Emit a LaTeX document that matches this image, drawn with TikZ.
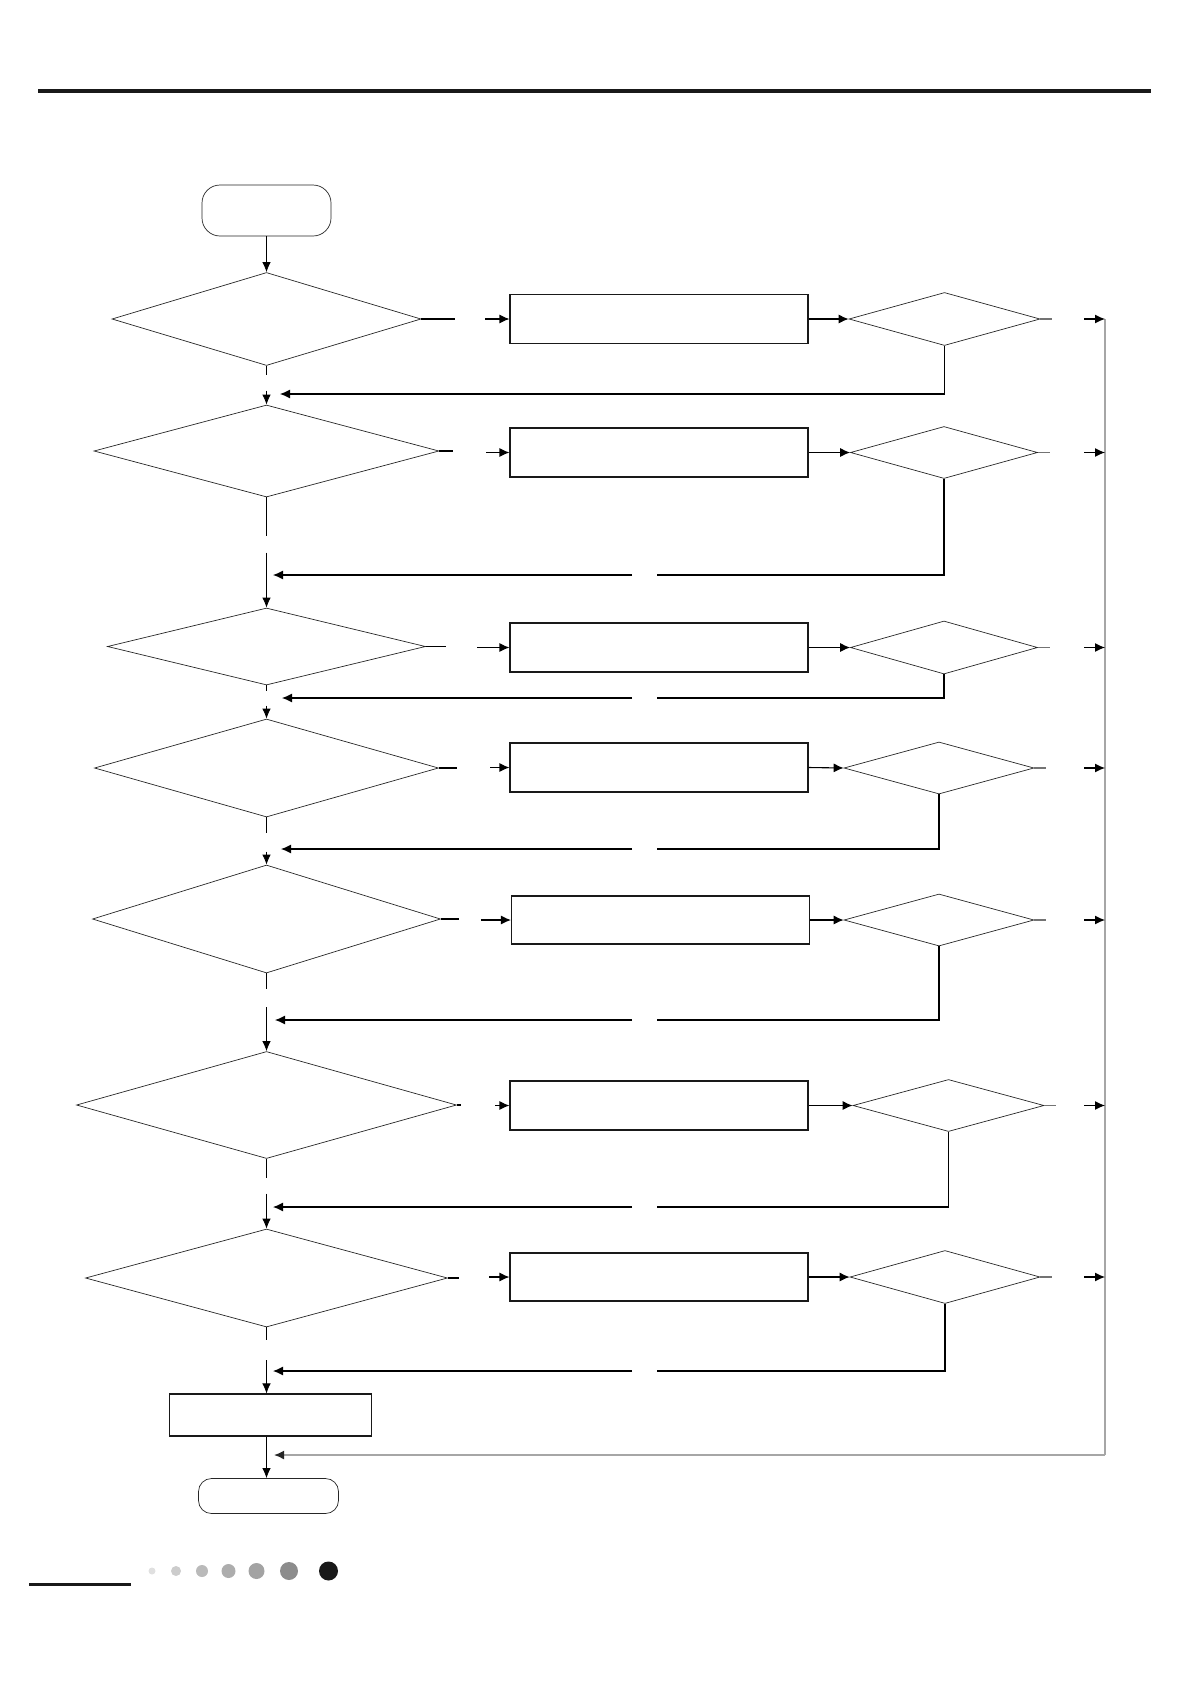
\documentclass[tikz,border=0pt]{standalone}
\usetikzlibrary{shapes.geometric,arrows.meta,calc}
\begin{document}
\begin{tikzpicture}[x=1pt,y=-1pt,
  dia/.style={draw=black!85, line width=0.7pt, diamond, inner sep=0pt},
  bx/.style={draw=black!90, line width=1.1pt, rectangle, inner sep=0pt},
  term/.style={draw=black!85, line width=0.7pt, rectangle, inner sep=0pt},
  arr/.style={line width=1.1pt, -{Latex[length=10pt,width=9pt]}},
  varr/.style={line width=0.8pt, -{Latex[length=10pt,width=8.5pt]}},
  ln/.style={line width=1.1pt},
  vln/.style={line width=0.8pt},
  grayln/.style={draw=black!35, line width=1.6pt},
  dot/.style={circle, inner sep=0pt, draw=none}
]
\useasboundingbox (0,0) rectangle (1190,1684);
% top rule
\fill[black!90] (38,89) rectangle (1151,93);

% terminals
\node[term, rounded corners=18pt, minimum width=129pt, minimum height=51pt] (start) at (266.5,210.5) {};
\node[term, rounded corners=13pt, minimum width=140pt, minimum height=35pt] (stop) at (268.5,1496) {};

% main decisions
\node[dia, minimum width=309pt, minimum height=93pt] (d1) at (266.5,319) {};
\node[dia, minimum width=345pt, minimum height=92pt] (d2) at (266.5,451) {};
\node[dia, minimum width=318pt, minimum height=77pt] (d3) at (266.5,646.5) {};
\node[dia, minimum width=344pt, minimum height=98pt] (d4) at (266.5,768) {};
\node[dia, minimum width=348pt, minimum height=108pt] (d5) at (266.5,919) {};
\node[dia, minimum width=380pt, minimum height=107pt] (d6) at (266.5,1105) {};
\node[dia, minimum width=362pt, minimum height=98pt] (d7) at (266.5,1278) {};

% action boxes
\node[bx, minimum width=298pt, minimum height=49pt] (r1) at (659,319) {};
\node[bx, minimum width=298pt, minimum height=49pt] (r2) at (659,452.5) {};
\node[bx, minimum width=298pt, minimum height=49pt] (r3) at (659,647.5) {};
\node[bx, minimum width=298pt, minimum height=49pt] (r4) at (659,767.5) {};
\node[bx, minimum width=298pt, minimum height=48pt] (r5) at (660.5,920) {};
\node[bx, minimum width=298pt, minimum height=49pt] (r6) at (659,1105.5) {};
\node[bx, minimum width=298pt, minimum height=48pt] (r7) at (659,1277) {};

% small decisions
\node[dia, minimum width=191pt, minimum height=53pt] (s1) at (944.5,319) {};
\node[dia, minimum width=187pt, minimum height=52pt] (s2) at (944,452.5) {};
\node[dia, minimum width=187pt, minimum height=53pt] (s3) at (944,647.5) {};
\node[dia, minimum width=190pt, minimum height=52pt] (s4) at (939,768) {};
\node[dia, minimum width=190pt, minimum height=52pt] (s5) at (939,920) {};
\node[dia, minimum width=191pt, minimum height=52pt] (s6) at (948.5,1105.5) {};
\node[dia, minimum width=190pt, minimum height=53pt] (s7) at (945,1277) {};

% final box
\node[bx, minimum width=202pt, minimum height=42pt] (fin) at (270.5,1415) {};

% right collector line
\coordinate (gtop) at (1105,319);
\coordinate (gbot) at (1105,1455);
\coordinate (gend) at (274,1455);
\draw[grayln] (gtop) -- (gbot);
\draw[grayln, -{Latex[length=10pt,width=9pt,color=black!85]}] (gbot) -- (gend);

% main column
\draw[varr] (start.south) -- (d1.north);
\draw[vln] (d1.south) -- ++(0,9);
\draw[varr] ($(d2.north)+(0,-14)$) -- (d2.north);
\draw[vln] (d2.south) -- ++(0,39);
\draw[varr] ($(d3.north)+(0,-55)$) -- (d3.north);
\draw[vln] (d3.south) -- ++(0,6);
\draw[varr] ($(d4.north)+(0,-13)$) -- (d4.north);
\draw[vln] (d4.south) -- ++(0,16);
\draw[varr] ($(d5.north)+(0,-13)$) -- (d5.north);
\draw[vln] (d5.south) -- ++(0,16);
\draw[varr] ($(d6.north)+(0,-44)$) -- (d6.north);
\draw[vln] (d6.south) -- ++(0,19);
\draw[varr] ($(d7.north)+(0,-35)$) -- (d7.north);
\draw[vln] (d7.south) -- ++(0,13);
\draw[varr] ($(start |- fin.north)+(0,-33)$) -- (start |- fin.north);
\draw[varr] (start |- fin.south) -- (start |- stop.north);

% decision -> action (with label gap)
\draw[ln] (d1.east) -- ++(34,0);  \draw[arr] ($(r1.west)+(-24,0)$) -- (r1.west);
\draw[ln] (d2.east) -- ++(14,0);  \draw[arr] ($(r2.west)+(-23,0)$) -- (r2.west);
\draw[ln] (d3.east) -- ++(20,0);  \draw[arr] ($(r3.west)+(-32,0)$) -- (r3.west);
\draw[ln] (d4.east) -- ++(18,0);  \draw[arr] ($(r4.west)+(-19,0)$) -- (r4.west);
\draw[ln] (d5.east) -- ++(18,0);  \draw[arr] ($(r5.west)+(-30,0)$) -- (r5.west);
\draw[ln] (d6.east) -- ++(4,0);   \draw[arr] ($(r6.west)+(-14,0)$) -- (r6.west);
\draw[ln] (d7.east) -- ++(11,0);  \draw[arr] ($(r7.west)+(-20,0)$) -- (r7.west);

% action -> small decision
\foreach \i in {1,...,7}{\draw[arr] (r\i.east) -- (s\i.west);}

% small decision -> collector (with label gap)
\foreach \i in {1,...,7}{
  \draw[ln, draw=black!55] (s\i.east) -- ++(12,0);
  \draw[arr] ($(gtop |- s\i.east)+(-21,0)$) -- (gtop |- s\i.east);
}

% loop-backs
\draw[arr] (s1.south) |- (280,394);
\draw[ln] (s2.south) |- (657,575); \draw[arr] (632,575) -- (273,575);
\draw[ln] (s3.south) |- (657,698); \draw[arr] (632,698) -- (282,698);
\draw[ln] (s4.south) |- (657,849); \draw[arr] (632,849) -- (281,849);
\draw[ln] (s5.south) |- (657,1020); \draw[arr] (632,1020) -- (275,1020);
\draw[ln] (s6.south) |- (657,1207); \draw[arr] (632,1207) -- (273,1207);
\draw[ln] (s7.south) |- (657,1371); \draw[arr] (632,1371) -- (273,1371);

% footer
\fill[black!90] (29,1583) rectangle (131,1586);
\node[dot, fill=black!12, minimum size=7pt] (p1) at (152,1571) {};
\node[dot, fill=black!20, minimum size=10pt] (p2) at (176,1571) {};
\node[dot, fill=black!27, minimum size=12pt] (p3) at (202,1571) {};
\node[dot, fill=black!32, minimum size=14pt] (p4) at (228.5,1571) {};
\node[dot, fill=black!36, minimum size=16pt] (p5) at (256.5,1571) {};
\node[dot, fill=black!45, minimum size=18pt] (p6) at (289,1571) {};
\node[dot, fill=black!90, minimum size=19pt] (p7) at (328.5,1571) {};
\end{tikzpicture}
\end{document}
